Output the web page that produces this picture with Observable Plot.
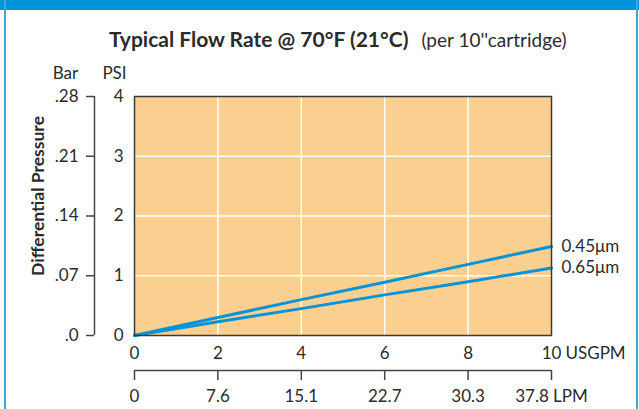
<!DOCTYPE html>
<html>
<head>
<meta charset="utf-8">
<script src="https://cdn.jsdelivr.net/npm/d3@7"></script>
<script src="https://cdn.jsdelivr.net/npm/@observablehq/plot@0.6"></script>
<style>
  html, body { margin: 0; padding: 0; background: #fff; }
  #wrap { position: relative; width: 639px; height: 409px; overflow: hidden; background: #fff; font-family: Lato, "Open Sans", sans-serif; color: #2b2b2b; }
  #topband { position: absolute; left: 0; top: 0; width: 639px; height: 10px; background: #0093D7; }
  #lb { position: absolute; left: 4px; top: 0; width: 2px; height: 409px; background: #3aa8df; }
  #rb { position: absolute; left: 636px; top: 0; width: 2px; height: 409px; background: #3aa8df; }
  #title { position: absolute; left: 109px; top: 25px; white-space: nowrap; font-size: 21px; line-height: 28px; }
  #title b { font-weight: 700; }
  #title span { font-size: 19px; margin-left: 13px; }
  #chart { position: absolute; left: 0; top: 0; }
</style>
</head>
<body>
<div id="wrap">
  <div id="topband"></div>
  <div id="lb"></div>
  <div id="rb"></div>
  <div id="chart"></div>
  <div id="title"><b>Typical Flow Rate @ 70°F (21°C)</b><span>(per 10''cartridge)</span></div>
</div>
<script>
const usgpmTicks = [0, 2, 4, 6, 8, 10];
const lpmLabels = ["0", "7.6", "15.1", "22.7", "30.3", "37.8"];
const psiTicks = [0, 1, 2, 3, 4];
const barLabels = [".0", ".07", ".14", ".21", ".28"];
const seriesNames = ["0.45μm", "0.65μm"];
const flowUSGPM = [0, 2, 4, 6, 8, 10];
const dp045 = [0, 0.30, 0.60, 0.89, 1.19, 1.49];
const dp065 = [0, 0.23, 0.45, 0.68, 0.90, 1.13];
const xUnit = "USGPM";
const x2Unit = "LPM";
const yUnit = "PSI";
const y2Unit = "Bar";
const yTitle = "Differential Pressure";

const orange = "#FACF8F";
const lineBlue = "#0A93D6";
const ink = "#2b2b2b";

const rows = [];
[dp045, dp065].forEach((vals, s) => {
  flowUSGPM.forEach((f, i) => rows.push({series: seriesNames[s], gpm: f, psi: vals[i]}));
});
const ends = seriesNames.map((name, s) => ({series: name, gpm: flowUSGPM.at(-1), psi: [dp045, dp065][s].at(-1)}));

const lpmFormat = d => {
  const i = usgpmTicks.indexOf(d);
  return i === usgpmTicks.length - 1 ? `${lpmLabels[i]} ${x2Unit}` : lpmLabels[i];
};

const chart = Plot.plot({
  width: 639,
  height: 409,
  marginTop: 96,
  marginBottom: 74,
  marginLeft: 134,
  marginRight: 88,
  x: {domain: [0, 10]},
  y: {domain: [0, 4]},
  style: {fontFamily: "Lato, 'Open Sans', sans-serif", fontSize: "17px", color: ink, background: "transparent", overflow: "visible"},
  marks: [
    Plot.frame({fill: orange}),
    Plot.gridX(usgpmTicks.slice(1, -1), {stroke: "white", strokeOpacity: 1, strokeWidth: 1.5}),
    Plot.gridY(psiTicks.slice(1, -1), {stroke: "white", strokeOpacity: 1, strokeWidth: 1.5}),
    Plot.line(rows, {x: "gpm", y: "psi", z: "series", stroke: lineBlue, strokeWidth: 3}),
    Plot.frame({stroke: "#3a3a3a", strokeWidth: 1.5}),
    Plot.text(ends, {x: "gpm", y: "psi", text: "series", dx: 10, textAnchor: "start", fill: ink}),
    // PSI axis
    Plot.axisY(psiTicks, {tickSize: 0, tickPadding: 11, label: null, fill: ink, tickFormat: d => String(d)}),
    // Bar axis
    Plot.ruleX([0], {dx: -40, stroke: "#444", strokeWidth: 1.5}),
    Plot.axisY(psiTicks, {dx: -40, tickSize: 8, tickPadding: 8, label: null, stroke: "#444", strokeWidth: 1.5, fill: ink,
      tickFormat: d => barLabels[psiTicks.indexOf(d)]}),
    // USGPM axis
    Plot.axisX(usgpmTicks, {tickSize: 0, tickPadding: 11, label: null, fill: ink, tickFormat: d => String(d)}),
    Plot.text([{x: usgpmTicks.at(-1), t: xUnit}], {x: "x", y: () => 0, text: "t", dx: 14, dy: 18, textAnchor: "start", fill: ink}),
    // LPM axis
    Plot.ruleY([0], {dy: 35, stroke: "#444", strokeWidth: 1.5}),
    Plot.axisX(usgpmTicks, {dy: 35, tickSize: 10, tickPadding: 9, label: null, stroke: "#444", strokeWidth: 1.5, fill: ink,
      tickFormat: lpmFormat}),
    // axis headers
    Plot.text([{y: psiTicks.at(-1), t: y2Unit}], {x: () => 0, y: "y", text: "t", dx: -69, dy: -23, fill: ink}),
    Plot.text([{y: psiTicks.at(-1), t: yUnit}], {x: () => 0, y: "y", text: "t", dx: -20, dy: -23, fill: ink}),
    Plot.text([yTitle], {frameAnchor: "left", textAnchor: "middle", dx: -96, dy: -20, rotate: -90, fontWeight: "bold", fontSize: 17.5, fill: ink})
  ]
});
document.getElementById("chart").appendChild(chart);
</script>
</body>
</html>
